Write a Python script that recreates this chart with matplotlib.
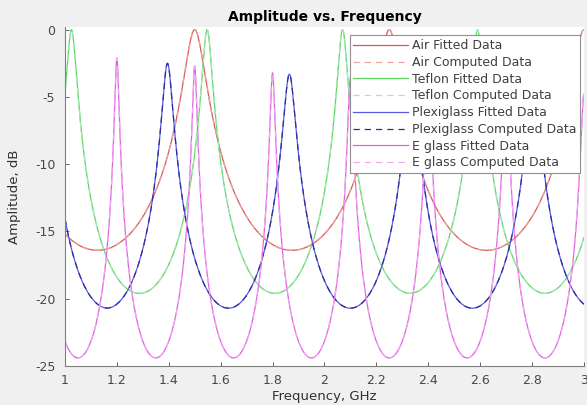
import numpy as np
import matplotlib.pyplot as plt

plt.rcParams['font.family'] = ['DejaVu Sans']
plt.rcParams['axes.unicode_minus'] = False

# Resonance peaks (GHz), peak levels (dB) and trough level (dB) per material
air_peaks = [0.75, 1.5, 2.25, 3.0]
air_peak_db = [0.0, 0.0, 0.0, 0.0]
air_trough_db = -16.4

teflon_peaks = [1.025, 1.548, 2.07, 2.59, 3.11]
teflon_peak_db = [0.0, 0.0, 0.0, 0.0, 0.0]
teflon_trough_db = -19.6

plexi_peaks = [0.93, 1.395, 1.865, 2.335, 2.805, 3.275]
plexi_peak_db = [-2.2, -2.5, -3.3, -3.6, -4.0, -4.3]
plexi_trough_db = -20.7

eglass_peaks = [0.9, 1.2, 1.5, 1.8, 2.1, 2.4, 2.7, 3.0]
eglass_peak_db = [-1.9, -2.1, -2.7, -3.2, -3.6, -4.0, -4.4, -4.8]
eglass_trough_db = -24.4

x_ticks = [1, 1.2, 1.4, 1.6, 1.8, 2, 2.2, 2.4, 2.6, 2.8, 3]
y_ticks = [-25, -20, -15, -10, -5, 0]


def resonance_db(f, peaks, peak_db, trough_db):
    # Fabry-Perot transmission around the nearest resonance
    peaks = np.asarray(peaks)
    peak_db = np.asarray(peak_db)
    fsr = np.diff(peaks).mean()
    idx = np.abs(f[:, None] - peaks[None, :]).argmin(axis=1)
    tp = 10 ** (peak_db[idx] / 10)
    tmin = 10 ** (trough_db / 10)
    coef = tp / tmin - 1
    s = np.sin(np.pi * (f - peaks[idx]) / fsr) ** 2
    return 10 * np.log10(tp / (1 + coef * s))


freq = np.linspace(1, 3, 3001)

fig = plt.figure(figsize=(5.87, 4.05), dpi=100, facecolor='#f0f0f0')
ax = fig.add_axes([0.1107, 0.0963, 0.884, 0.837])

materials = [
    ('Air', air_peaks, air_peak_db, air_trough_db, '#d65a55', '#f0a0a0'),
    ('Teflon', teflon_peaks, teflon_peak_db, teflon_trough_db, '#5cd65c', '#a8e8c0'),
    ('Plexiglass', plexi_peaks, plexi_peak_db, plexi_trough_db, '#5a5ae6', '#303090'),
    ('E glass', eglass_peaks, eglass_peak_db, eglass_trough_db, '#e060e0', '#f0a8f0'),
]

for name, peaks, pdb, tdb, c_fit, c_comp in materials:
    amp = resonance_db(freq, peaks, pdb, tdb)
    ax.plot(freq, amp, color=c_fit, lw=0.9, label=name + ' Fitted Data')
    ax.plot(freq, amp, color=c_comp, lw=0.9, ls=(0, (5, 4)),
            label=name + ' Computed Data')

ax.set_xlim(1, 3)
ax.set_ylim(-25, 0.2)
ax.set_xticks(x_ticks)
ax.set_xticklabels([f'{t:g}' for t in x_ticks])
ax.set_yticks(y_ticks)
ax.tick_params(direction='in', length=3, labelsize=9, colors='#484848',
               width=0.6)
ax.tick_params(axis='x', pad=6)
ax.tick_params(axis='y', pad=7)
for side in ['top', 'right']:
    ax.spines[side].set_visible(False)
for side in ['left', 'bottom']:
    ax.spines[side].set_color('#808080')
    ax.spines[side].set_linewidth(0.8)

ax.set_title('Amplitude vs. Frequency', fontsize=10, fontweight='bold', pad=4)
ax.set_xlabel('Frequency, GHz', fontsize=9.5, labelpad=2, color='#303030')
ax.set_ylabel('Amplitude, dB', fontsize=9.5, labelpad=10, color='#303030')

leg = ax.legend(loc='upper right', bbox_to_anchor=(0.993, 0.975),
                fontsize=9, handlelength=4.4, handletextpad=0.3,
                labelspacing=0.3, borderaxespad=0, fancybox=False,
                framealpha=1, edgecolor='#909090', borderpad=0.3)
leg.get_frame().set_linewidth(0.8)
for t in leg.get_texts():
    t.set_color('#404040')

fig.savefig('out.png', dpi=100, facecolor=fig.get_facecolor())
